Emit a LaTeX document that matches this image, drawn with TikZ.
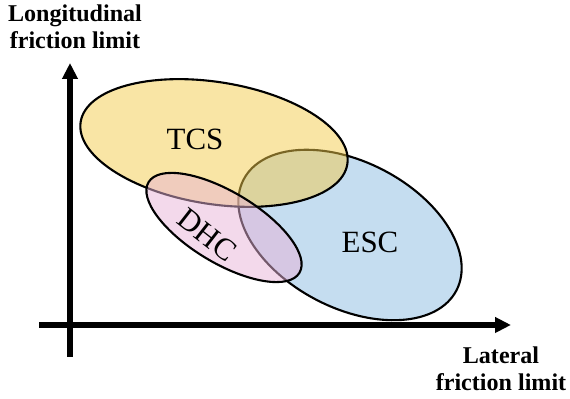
\documentclass[tikz,border=0pt]{standalone}
\usepackage{fontspec}
\setmainfont{Liberation Serif}
\usetikzlibrary{arrows.meta}
\definecolor{tcsyellow}{RGB}{243,203,75}
\definecolor{escblue}{RGB}{197,221,240}
\definecolor{dhcpink}{RGB}{231,179,215}

\begin{document}
\begin{tikzpicture}[
  axis/.style={line width=3.4pt, -{Triangle[length=0.32cm,width=0.3cm]}},
  region/.style={draw=black, line width=1.2pt},
  regionlabel/.style={font=\fontsize{17.6}{20}\selectfont, inner sep=0pt},
  axislabel/.style={font=\fontsize{13.7}{15.4}\selectfont\bfseries, align=center, inner sep=0pt, anchor=north}]
\useasboundingbox (0,0) rectangle (11.4,7.98);
% regions
\draw[region, fill=escblue] (7.00,3.28) ellipse[x radius=2.40, y radius=1.46, rotate=-27.5];
\draw[region, fill=tcsyellow, fill opacity=0.5] (4.28,5.12) ellipse[x radius=2.70, y radius=1.22, rotate=-9];
\draw[region, fill=dhcpink, fill opacity=0.5] (4.48,3.43) ellipse[x radius=1.76, y radius=0.71, rotate=-31];
\node[regionlabel] (tcs) at (3.90,5.20) {TCS};
\node[regionlabel] (esc) at (7.40,3.14) {ESC};
\node[regionlabel, rotate=-38] (dhc) at (4.14,3.28) {DHC};
% axes
\coordinate (ybot) at (1.40,0.84);
\coordinate (ytop) at (1.40,6.72);
\coordinate (xleft) at (0.78,1.48);
\coordinate (xright) at (10.22,1.48);
\draw[axis] (ybot)--(ytop);
\draw[axis] (xleft)--(xright);
\node[axislabel] (ylabel) at (1.50,7.90) {Longitudinal\\friction limit};
\node[axislabel] (xlabel) at (10.02,1.06) {Lateral\\friction limit};
\end{tikzpicture}
\end{document}
